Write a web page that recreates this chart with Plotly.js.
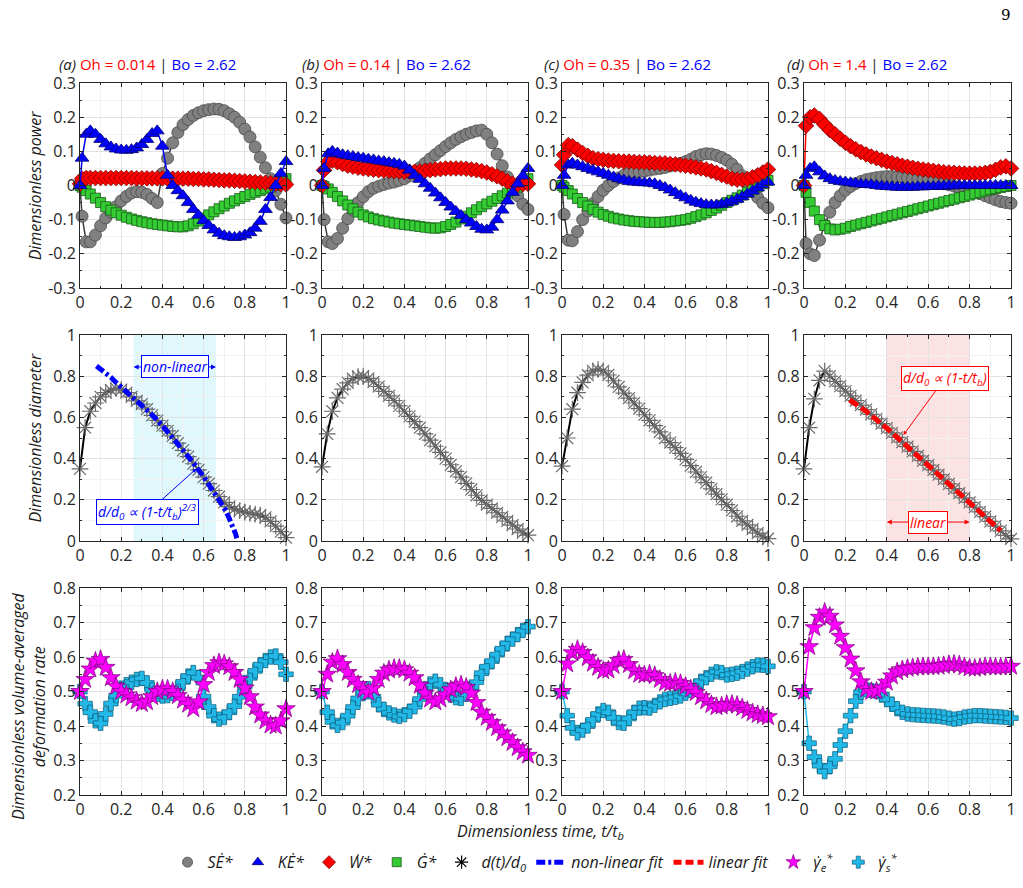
<!DOCTYPE html>
<html><head><meta charset="utf-8">
<script src="https://cdn.plot.ly/plotly-3.0.1.min.js"></script>
<style>html,body{margin:0;padding:0;background:#fff}#chart{width:1023px;height:888px}</style>
</head><body><div id="chart"></div>
<script>
// ---------- time grids ----------
const tP = [0,0.01,0.03,0.05,0.075,0.1,0.125,0.15,0.175,0.2,0.225,0.25,0.275,0.3,0.325,0.35,0.375,0.4,0.425,0.45,0.475,0.5,0.525,0.55,0.575,0.6,0.625,0.65,0.675,0.7,0.725,0.75,0.775,0.8,0.825,0.85,0.875,0.9,0.925,0.95,0.975,1.0];
const tD = [0,0.025,0.05,0.075,0.1,0.125,0.15,0.175,0.2,0.225,0.25,0.275,0.3,0.325,0.35,0.375,0.4,0.425,0.45,0.475,0.5,0.525,0.55,0.575,0.6,0.625,0.65,0.675,0.7,0.725,0.75,0.775,0.8,0.825,0.85,0.875,0.9,0.925,0.95,0.975,1.0];

// ---------- row 1: dimensionless power ----------
const SE_a = [0,-0.09,-0.165,-0.165,-0.145,-0.118,-0.095,-0.078,-0.062,-0.045,-0.032,-0.022,-0.018,-0.02,-0.026,-0.038,-0.05,0.035,0.08,0.125,0.155,0.178,0.193,0.205,0.213,0.219,0.222,0.224,0.223,0.219,0.21,0.2,0.185,0.165,0.142,0.113,0.083,0.052,0.02,-0.015,-0.055,-0.095];
const KE_a = [0,0.08,0.15,0.16,0.15,0.135,0.122,0.113,0.107,0.104,0.103,0.105,0.11,0.12,0.135,0.152,0.16,0.115,0.03,0.0,-0.015,-0.03,-0.05,-0.07,-0.087,-0.103,-0.117,-0.13,-0.14,-0.147,-0.15,-0.152,-0.15,-0.145,-0.138,-0.125,-0.105,-0.07,-0.035,0.0,0.035,0.07];
const W_a  = [0.005,0.02,0.022,0.022,0.022,0.022,0.022,0.022,0.022,0.022,0.022,0.022,0.021,0.021,0.021,0.021,0.021,0.021,0.02,0.02,0.02,0.02,0.02,0.019,0.019,0.018,0.018,0.017,0.016,0.015,0.015,0.014,0.013,0.012,0.011,0.01,0.009,0.008,0.007,0.005,0.004,0.003];
const G_a  = [0,-0.005,-0.015,-0.025,-0.037,-0.05,-0.062,-0.072,-0.08,-0.087,-0.093,-0.098,-0.102,-0.106,-0.109,-0.112,-0.114,-0.116,-0.118,-0.12,-0.121,-0.121,-0.118,-0.112,-0.104,-0.095,-0.086,-0.077,-0.068,-0.06,-0.052,-0.045,-0.038,-0.032,-0.026,-0.02,-0.015,-0.01,-0.005,0.0,0.01,0.02];

const SE_b = [0,-0.1,-0.165,-0.17,-0.155,-0.125,-0.097,-0.072,-0.05,-0.033,-0.018,-0.008,-0.002,0.003,0.007,0.01,0.015,0.02,0.028,0.04,0.052,0.065,0.078,0.09,0.102,0.114,0.125,0.135,0.143,0.15,0.155,0.16,0.162,0.15,0.125,0.092,0.058,0.025,-0.005,-0.03,-0.055,-0.07];
const KE_b = [0,0.05,0.093,0.1,0.095,0.09,0.087,0.085,0.082,0.08,0.077,0.075,0.072,0.07,0.067,0.065,0.062,0.057,0.045,0.03,0.018,0.005,-0.008,-0.022,-0.036,-0.05,-0.063,-0.076,-0.088,-0.1,-0.11,-0.12,-0.128,-0.13,-0.122,-0.1,-0.072,-0.045,-0.02,0.005,0.028,0.05];
const W_b  = [0,0.045,0.07,0.073,0.068,0.063,0.058,0.055,0.052,0.05,0.048,0.046,0.045,0.044,0.043,0.042,0.041,0.04,0.04,0.04,0.041,0.043,0.045,0.047,0.048,0.05,0.05,0.05,0.05,0.049,0.047,0.045,0.042,0.038,0.033,0.027,0.02,0.012,0.005,0.003,0.004,0.005];
const G_b  = [0,-0.003,-0.01,-0.02,-0.032,-0.045,-0.057,-0.068,-0.078,-0.086,-0.092,-0.097,-0.101,-0.104,-0.107,-0.11,-0.112,-0.114,-0.116,-0.118,-0.12,-0.122,-0.124,-0.125,-0.124,-0.12,-0.114,-0.107,-0.098,-0.09,-0.08,-0.071,-0.062,-0.054,-0.046,-0.038,-0.03,-0.022,-0.013,-0.005,0.007,0.02];

const SE_c = [0,-0.085,-0.16,-0.162,-0.135,-0.1,-0.075,-0.053,-0.032,-0.014,0.0,0.012,0.022,0.03,0.035,0.038,0.04,0.042,0.045,0.048,0.05,0.053,0.057,0.06,0.065,0.07,0.077,0.085,0.09,0.093,0.092,0.088,0.082,0.074,0.062,0.047,0.028,0.006,-0.015,-0.035,-0.052,-0.065];
const KE_c = [0,0.03,0.06,0.065,0.06,0.055,0.05,0.045,0.04,0.035,0.03,0.025,0.02,0.016,0.012,0.01,0.009,0.008,0.007,0.005,0.0,-0.006,-0.013,-0.021,-0.029,-0.036,-0.043,-0.049,-0.053,-0.056,-0.057,-0.057,-0.055,-0.051,-0.046,-0.04,-0.033,-0.025,-0.016,-0.007,0.002,0.01];
const W_c  = [0.06,0.09,0.118,0.115,0.105,0.095,0.087,0.08,0.077,0.075,0.073,0.072,0.071,0.07,0.07,0.069,0.068,0.068,0.067,0.066,0.065,0.065,0.063,0.062,0.06,0.058,0.056,0.053,0.05,0.047,0.042,0.037,0.031,0.026,0.02,0.017,0.017,0.019,0.024,0.03,0.038,0.047];
const G_c  = [0,-0.005,-0.015,-0.025,-0.038,-0.05,-0.06,-0.07,-0.078,-0.085,-0.09,-0.095,-0.098,-0.101,-0.103,-0.105,-0.106,-0.107,-0.108,-0.108,-0.108,-0.107,-0.106,-0.104,-0.102,-0.1,-0.096,-0.091,-0.086,-0.08,-0.073,-0.066,-0.058,-0.05,-0.043,-0.036,-0.028,-0.02,-0.012,-0.004,0.005,0.015];

const SE_d = [0,-0.17,-0.2,-0.205,-0.16,-0.115,-0.078,-0.05,-0.03,-0.014,-0.003,0.006,0.012,0.017,0.02,0.023,0.025,0.026,0.026,0.025,0.024,0.022,0.02,0.018,0.016,0.014,0.011,0.008,0.005,0.002,-0.002,-0.006,-0.01,-0.014,-0.019,-0.024,-0.03,-0.036,-0.042,-0.047,-0.05,-0.052];
const KE_d = [0,0.03,0.05,0.055,0.04,0.028,0.02,0.015,0.012,0.01,0.008,0.006,0.004,0.003,0.002,0.0,-0.002,-0.003,-0.004,-0.005,-0.005,-0.005,-0.005,-0.004,-0.004,-0.003,-0.003,-0.002,-0.002,-0.001,-0.001,0,0,0,0,0,0,0,0,0,0,0];
const W_d  = [0,0.175,0.2,0.205,0.195,0.178,0.162,0.15,0.137,0.125,0.115,0.106,0.098,0.091,0.085,0.08,0.075,0.07,0.066,0.062,0.058,0.055,0.052,0.049,0.047,0.045,0.043,0.041,0.039,0.038,0.037,0.036,0.035,0.035,0.035,0.035,0.037,0.04,0.046,0.053,0.056,0.05];
const G_d  = [0,-0.02,-0.05,-0.075,-0.1,-0.117,-0.127,-0.13,-0.128,-0.125,-0.12,-0.116,-0.112,-0.108,-0.104,-0.1,-0.096,-0.092,-0.088,-0.084,-0.08,-0.076,-0.072,-0.068,-0.064,-0.06,-0.056,-0.052,-0.048,-0.044,-0.04,-0.036,-0.032,-0.028,-0.024,-0.02,-0.016,-0.012,-0.009,-0.006,-0.003,0.0];

// ---------- row 2: dimensionless diameter ----------
const D_a = [0.35,0.55,0.63,0.67,0.7,0.72,0.733,0.74,0.735,0.72,0.7,0.68,0.665,0.64,0.61,0.585,0.56,0.535,0.51,0.475,0.44,0.41,0.375,0.345,0.31,0.278,0.245,0.215,0.187,0.167,0.155,0.147,0.14,0.134,0.13,0.125,0.115,0.095,0.072,0.045,0.016];
const D_b = [0.36,0.52,0.63,0.695,0.737,0.768,0.788,0.798,0.8,0.79,0.772,0.75,0.726,0.705,0.682,0.656,0.63,0.605,0.58,0.55,0.52,0.49,0.46,0.43,0.4,0.37,0.338,0.31,0.28,0.25,0.222,0.197,0.177,0.158,0.137,0.117,0.097,0.077,0.058,0.04,0.028];
const D_c = [0.363,0.5,0.64,0.72,0.77,0.805,0.826,0.833,0.826,0.806,0.778,0.748,0.718,0.694,0.67,0.643,0.613,0.586,0.56,0.53,0.5,0.478,0.453,0.425,0.396,0.366,0.335,0.31,0.283,0.253,0.227,0.202,0.176,0.148,0.12,0.098,0.078,0.058,0.038,0.02,0.011];
const D_d = [0.35,0.55,0.69,0.78,0.825,0.8,0.775,0.752,0.728,0.705,0.682,0.66,0.638,0.615,0.593,0.57,0.548,0.525,0.503,0.48,0.458,0.435,0.413,0.39,0.368,0.345,0.322,0.3,0.277,0.254,0.232,0.209,0.187,0.164,0.141,0.118,0.095,0.072,0.049,0.027,0.01];
const tFitNL = [0.08,0.1,0.125,0.15,0.175,0.2,0.25,0.3,0.35,0.4,0.45,0.5,0.55,0.6,0.65,0.7,0.72,0.74,0.755,0.765];
const fitNL  = [0.85,0.835,0.815,0.795,0.77,0.748,0.705,0.662,0.612,0.56,0.503,0.443,0.38,0.312,0.24,0.16,0.12,0.075,0.035,0.0];
const tFitL  = [0.22,0.3,0.4,0.5,0.6,0.7,0.8,0.9,0.95];
const fitL   = [0.685,0.63,0.548,0.458,0.368,0.277,0.187,0.095,0.05];
const regionNL = [0.26,0.66];
const regionL  = [0.4,0.8];

// ---------- row 3: volume-averaged deformation rate ----------
const ge_a = [0.5,0.535,0.565,0.588,0.593,0.57,0.54,0.515,0.5,0.49,0.482,0.472,0.465,0.47,0.485,0.5,0.507,0.507,0.5,0.488,0.475,0.463,0.45,0.47,0.52,0.555,0.575,0.583,0.58,0.572,0.555,0.535,0.51,0.485,0.455,0.432,0.415,0.403,0.4,0.415,0.45];
const gs_a = [0.5,0.465,0.44,0.415,0.408,0.435,0.465,0.488,0.51,0.52,0.527,0.535,0.538,0.525,0.505,0.492,0.487,0.488,0.495,0.51,0.528,0.545,0.555,0.54,0.485,0.455,0.43,0.42,0.425,0.44,0.458,0.485,0.515,0.54,0.56,0.578,0.59,0.6,0.603,0.585,0.55];
const ge_b = [0.5,0.55,0.585,0.595,0.578,0.555,0.535,0.52,0.505,0.497,0.51,0.535,0.553,0.562,0.567,0.567,0.563,0.553,0.54,0.518,0.495,0.478,0.47,0.478,0.49,0.505,0.515,0.519,0.512,0.495,0.468,0.44,0.425,0.41,0.395,0.38,0.366,0.352,0.337,0.325,0.315];
const gs_b = [0.5,0.44,0.412,0.402,0.41,0.43,0.455,0.48,0.497,0.508,0.485,0.462,0.448,0.438,0.432,0.428,0.433,0.443,0.456,0.478,0.5,0.522,0.53,0.52,0.503,0.49,0.482,0.48,0.492,0.508,0.527,0.553,0.572,0.588,0.607,0.624,0.64,0.652,0.665,0.677,0.688];
const ge_c = [0.5,0.58,0.612,0.622,0.613,0.598,0.582,0.57,0.56,0.562,0.575,0.59,0.593,0.578,0.56,0.55,0.548,0.551,0.546,0.535,0.525,0.524,0.527,0.523,0.515,0.507,0.497,0.485,0.473,0.462,0.456,0.458,0.462,0.463,0.46,0.453,0.445,0.438,0.433,0.43,0.427];
const gs_c = [0.5,0.43,0.395,0.38,0.388,0.4,0.418,0.435,0.445,0.44,0.423,0.41,0.408,0.422,0.44,0.452,0.453,0.452,0.46,0.47,0.477,0.48,0.483,0.487,0.495,0.503,0.515,0.53,0.54,0.55,0.557,0.555,0.548,0.55,0.553,0.558,0.565,0.572,0.577,0.576,0.573];
const ge_d = [0.5,0.63,0.685,0.715,0.73,0.718,0.693,0.66,0.627,0.594,0.56,0.528,0.507,0.5,0.501,0.51,0.527,0.545,0.557,0.563,0.567,0.569,0.571,0.572,0.572,0.572,0.573,0.575,0.578,0.579,0.577,0.572,0.568,0.567,0.569,0.572,0.572,0.571,0.571,0.572,0.573];
const gs_d = [0.5,0.35,0.31,0.285,0.268,0.283,0.305,0.345,0.385,0.43,0.472,0.498,0.505,0.503,0.5,0.49,0.477,0.463,0.45,0.44,0.435,0.433,0.432,0.431,0.43,0.429,0.428,0.426,0.423,0.42,0.422,0.426,0.428,0.43,0.43,0.429,0.428,0.427,0.426,0.425,0.423];

// ---------- labels / ticks ----------
const panelTags = ['(a)','(b)','(c)','(d)'];
const ohValues  = ['0.014','0.14','0.35','1.4'];
const boValue   = '2.62';
const xTickVals = [0,0.2,0.4,0.6,0.8,1];
const xTickText = ['0','0.2','0.4','0.6','0.8','1'];
const y1TickVals = [-0.3,-0.2,-0.1,0,0.1,0.2,0.3];
const y1TickText = ['-0.3','-0.2','-0.1','0','0.1','0.2','0.3'];
const y2TickVals = [0,0.2,0.4,0.6,0.8,1];
const y2TickText = ['0','0.2','0.4','0.6','0.8','1'];
const y3TickVals = [0.2,0.3,0.4,0.5,0.6,0.7,0.8];
const y3TickText = ['0.2','0.3','0.4','0.5','0.6','0.7','0.8'];
const legendNames = ['<i>SĖ*</i>','<i>KĖ*</i>','<i>Ẇ*</i>','<i>Ġ*</i>','<i>d(t)/d<sub>0</sub></i>','<i>non-linear fit</i>','<i>linear fit</i>','<i>γ̇<sub>e</sub><sup>*</sup></i>','<i>γ̇<sub>s</sub><sup>*</sup></i>'];

const FONT = '"Open Sans", "Noto Sans", sans-serif';
const powerSets = [[SE_a,KE_a,W_a,G_a],[SE_b,KE_b,W_b,G_b],[SE_c,KE_c,W_c,G_c],[SE_d,KE_d,W_d,G_d]];
const diamSets = [D_a,D_b,D_c,D_d];
const rateSets = [[ge_a,gs_a],[ge_b,gs_b],[ge_c,gs_c],[ge_d,gs_d]];

const xDom = [[0.0782,0.2796],[0.3148,0.5161],[0.5494,0.7507],[0.7859,0.9883]];
const yDom = [[0.6757,0.9065],[0.3908,0.6227],[0.1047,0.3378]];

const ST = {
  SE:{marker:{symbol:'circle',size:12,color:'#808080',line:{color:'#4a4a4a',width:0.8}},line:{color:'#3a3a3a',width:1.5}},
  KE:{marker:{symbol:'triangle-up',size:12,color:'#0000ff',line:{color:'#00006e',width:0.8}},line:{color:'#0000ff',width:1.5}},
  W:{marker:{symbol:'diamond',size:12,color:'#ff0000',line:{color:'#7a0000',width:0.8}},line:{color:'#ff0000',width:1.5}},
  G:{marker:{symbol:'square',size:10,color:'#33cc33',line:{color:'#1a5a1a',width:0.8}},line:{color:'#111111',width:1.5}},
  D:{marker:{symbol:'asterisk',size:14,color:'#6a6a6a',line:{color:'#6a6a6a',width:1.2}},line:{color:'#000000',width:2}},
  GE:{marker:{symbol:'star',size:14,color:'#ff00ff',line:{color:'#7a007a',width:0.7}},line:{color:'#ff00ff',width:1.5}},
  GS:{marker:{symbol:'cross',size:12,color:'#22b8e8',line:{color:'#0b5b78',width:0.7}},line:{color:'#22b8e8',width:1.5}}
};

function k(i){ return i===1 ? '' : String(i); }
const traces = [];
for (let c=0;c<4;c++){
  const i1=c+1, i2=c+5, i3=c+9;
  const [se,ke,w,g] = powerSets[c];
  const order = [[se,ST.SE],[g,ST.G],[w,ST.W],[ke,ST.KE]];
  order.forEach(([yy,st])=>traces.push({x:tP,y:yy,xaxis:'x'+k(i1),yaxis:'y'+k(i1),mode:'lines+markers',marker:st.marker,line:st.line,showlegend:false,cliponaxis:false,hoverinfo:'skip'}));
  traces.push({x:tD,y:diamSets[c],xaxis:'x'+k(i2),yaxis:'y'+k(i2),mode:'lines+markers',marker:ST.D.marker,line:ST.D.line,showlegend:false,cliponaxis:false,hoverinfo:'skip'});
  if(c===0) traces.push({x:tFitNL,y:fitNL,xaxis:'x5',yaxis:'y5',mode:'lines',line:{color:'#0000ff',width:5,dash:'9px,3px,3px,3px'},showlegend:false,cliponaxis:false,hoverinfo:'skip'});
  if(c===3) traces.push({x:tFitL,y:fitL,xaxis:'x8',yaxis:'y8',mode:'lines',line:{color:'#ff0000',width:5,dash:'10px,4px'},showlegend:false,cliponaxis:false,hoverinfo:'skip'});
  const [ge,gs] = rateSets[c];
  traces.push({x:tD,y:gs,xaxis:'x'+k(i3),yaxis:'y'+k(i3),mode:'lines+markers',marker:ST.GS.marker,line:ST.GS.line,showlegend:false,cliponaxis:false,hoverinfo:'skip'});
  traces.push({x:tD,y:ge,xaxis:'x'+k(i3),yaxis:'y'+k(i3),mode:'lines+markers',marker:ST.GE.marker,line:ST.GE.line,showlegend:false,cliponaxis:false,hoverinfo:'skip'});
}
// legend entries
function sm(m,s){ return Object.assign({},m,{size:s}); }
const legStyles = [
  {mode:'markers',marker:sm(ST.SE.marker,10)},{mode:'markers',marker:sm(ST.KE.marker,10)},{mode:'markers',marker:sm(ST.W.marker,10)},{mode:'markers',marker:sm(ST.G.marker,9)},
  {mode:'markers',marker:{symbol:'asterisk',size:11,color:'#000',line:{color:'#000',width:1.2}}},
  {mode:'lines',line:{color:'#0000ff',width:5,dash:'9px,3px,3px,3px'}},
  {mode:'lines',line:{color:'#ff0000',width:5,dash:'8px,4px'}},
  {mode:'markers',marker:sm(ST.GE.marker,11)},{mode:'markers',marker:sm(ST.GS.marker,10)}
];
legStyles.forEach((s,j)=>traces.push(Object.assign({x:[null],y:[null],xaxis:'x',yaxis:'y',name:legendNames[j],showlegend:true,hoverinfo:'skip'},s)));

const layout = {
  width:1023,height:888,margin:{l:0,r:0,t:0,b:0},paper_bgcolor:'#ffffff',plot_bgcolor:'#ffffff',
  font:{family:FONT,color:'#262626'},
  showlegend:true,
  legend:{orientation:'h',x:0.523,xanchor:'center',y:0.029,yanchor:'middle',font:{family:FONT,size:16,color:'#1a1a1a'},itemwidth:30,bgcolor:'rgba(0,0,0,0)'},
  annotations:[],shapes:[]
};
function axisBase(){ return {showline:true,linecolor:'#262626',linewidth:1,mirror:'ticks',ticks:'inside',ticklen:4,tickcolor:'#262626',tickwidth:1,
  showgrid:true,gridcolor:'#e2e2e2',gridwidth:1,zeroline:false,tickfont:{family:FONT,size:16,color:'#262626'},fixedrange:true}; }
const yTV=[y1TickVals,y2TickVals,y3TickVals], yTT=[y1TickText,y2TickText,y3TickText];
const yRange=[[-0.3,0.3],[0,1],[0.2,0.8]];
const yMinor=[[-0.25,-0.15,-0.05,0.05,0.15,0.25],[0.1,0.3,0.5,0.7,0.9],[0.25,0.35,0.45,0.55,0.65,0.75]];
for(let r=0;r<3;r++) for(let c=0;c<4;c++){
  const i=r*4+c+1;
  layout['xaxis'+k(i)] = Object.assign(axisBase(),{domain:xDom[c],anchor:'y'+k(i),range:[0,1],tickmode:'array',tickvals:xTickVals,ticktext:xTickText,
    minor:{tickmode:'array',tickvals:[0.1,0.3,0.5,0.7,0.9],showgrid:true,gridcolor:'#f2f2f2',ticks:'inside',ticklen:2,tickcolor:'#262626'}});
  layout['yaxis'+k(i)] = Object.assign(axisBase(),{domain:yDom[r],anchor:'x'+k(i),range:yRange[r],tickmode:'array',tickvals:yTV[r],ticktext:yTT[r],
    minor:{tickmode:'array',tickvals:yMinor[r],showgrid:true,gridcolor:'#f2f2f2',ticks:'inside',ticklen:2,tickcolor:'#262626'}});
}
// panel titles
const tagX=[0.0557,0.2933,0.5298,0.7674];
for(let c=0;c<4;c++) layout.annotations.push({xref:'paper',yref:'paper',x:tagX[c],y:0.9275,xanchor:'left',yanchor:'middle',showarrow:false,
  text:'<i>'+panelTags[c]+'</i> <span style="color:#ff0000">Oh = '+ohValues[c]+'</span> | <span style="color:#0000ff">Bo = '+boValue+'</span>',
  font:{family:FONT,size:15,color:'#1a1a1a'}});
// axis titles
const tfont={family:FONT,size:16,color:'#1a1a1a'};
layout.annotations.push({xref:'paper',yref:'paper',x:0.034,y:0.791,xanchor:'center',yanchor:'middle',textangle:-90,showarrow:false,text:'<i>Dimensionless power</i>',font:tfont});
layout.annotations.push({xref:'paper',yref:'paper',x:0.034,y:0.507,xanchor:'center',yanchor:'middle',textangle:-90,showarrow:false,text:'<i>Dimensionless diameter</i>',font:tfont});
layout.annotations.push({xref:'paper',yref:'paper',x:0.0285,y:0.205,xanchor:'center',yanchor:'middle',textangle:-90,showarrow:false,text:'<i>Dimensionless volume-averaged<br>deformation rate</i>',font:tfont});
layout.annotations.push({xref:'paper',yref:'paper',x:0.528,y:0.064,xanchor:'center',yanchor:'middle',showarrow:false,text:'<i>Dimensionless time, t/t<sub>b</sub></i>',font:tfont});
layout.annotations.push({xref:'paper',yref:'paper',x:0.983,y:0.983,xanchor:'center',yanchor:'middle',showarrow:false,text:'9',font:{family:'"DejaVu Serif", "Liberation Serif", serif',size:15,color:'#000'}});
// shaded regions
layout.shapes.push({type:'rect',xref:'x5',yref:'y5',x0:regionNL[0],x1:regionNL[1],y0:0,y1:1,fillcolor:'#e0f7fc',line:{width:0},layer:'below'});
layout.shapes.push({type:'rect',xref:'x8',yref:'y8',x0:regionL[0],x1:regionL[1],y0:0,y1:1,fillcolor:'#fce3e3',line:{width:0},layer:'below'});
// region arrows + labels
function regionArrows(ax,lo,hi,yv,col,label){
  const mid=(lo+hi)/2;
  [lo,hi].forEach(xe=>layout.annotations.push({xref:'x'+ax,yref:'y'+ax,x:xe,y:yv,axref:'x'+ax,ayref:'y'+ax,ax:mid,ay:yv,text:' ',showarrow:true,arrowhead:2,arrowsize:1,arrowwidth:1,arrowcolor:col,standoff:0,startstandoff:0}));
  layout.annotations.push({xref:'x'+ax,yref:'y'+ax,x:mid,y:yv,showarrow:false,text:'<i>'+label+'</i>',font:{family:FONT,size:14,color:col},bgcolor:'#ffffff',bordercolor:col,borderwidth:1,borderpad:1});
}
regionArrows(5,regionNL[0],regionNL[1],0.845,'#0000ff','non-linear');
regionArrows(8,regionL[0],regionL[1],0.092,'#ff0000','linear');
layout.annotations.push({xref:'x5',yref:'y5',x:0.566,y:0.352,axref:'x5',ayref:'y5',ax:0.33,ay:0.14,showarrow:true,arrowhead:2,arrowsize:0.8,arrowwidth:1,arrowcolor:'#0000ff',
  text:'<i>d/d<sub>0</sub> ∝ (1-t/t<sub>b</sub>)<sup>2/3</sup></i>',font:{family:FONT,size:14,color:'#0000ff'},bgcolor:'#ffffff',bordercolor:'#0000ff',borderwidth:1,borderpad:1});
layout.annotations.push({xref:'x8',yref:'y8',x:0.48,y:0.514,axref:'x8',ayref:'y8',ax:0.68,ay:0.79,showarrow:true,arrowhead:2,arrowsize:0.8,arrowwidth:1,arrowcolor:'#ff0000',
  text:'<i>d/d<sub>0</sub> ∝ (1-t/t<sub>b</sub>)</i>',font:{family:FONT,size:14,color:'#ff0000'},bgcolor:'#ffffff',bordercolor:'#ff0000',borderwidth:1,borderpad:1});

Plotly.newPlot('chart',traces,layout,{staticPlot:true,displayModeBar:false});
</script>
</body></html>
